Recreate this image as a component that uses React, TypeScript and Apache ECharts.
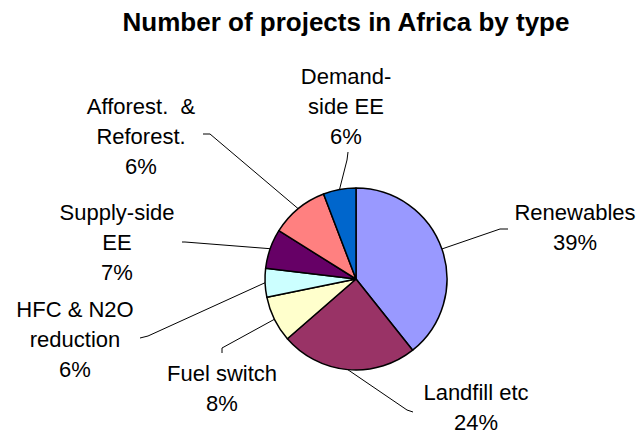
import React, { useEffect, useRef } from "react";
import * as echarts from "echarts";

// Data
const categories = [
  "Renewables",
  "Landfill etc",
  "Fuel switch",
  "HFC & N2O\nreduction",
  "Supply-side\nEE",
  "Afforest.  &\nReforest.",
  "Demand-\nside EE",
];
const sliceShares = [39.3, 24.3, 8.2, 5.1, 7.0, 10.3, 5.8];
// percentages as printed on the chart
const percentLabels = ["39%", "24%", "8%", "6%", "7%", "6%", "6%"];
const sliceColors = ["#9999FF", "#993366", "#FFFFCC", "#CCFFFF", "#660066", "#FF8080", "#0066CC"];

const titleText = "Number of projects in Africa by type";

// label layout (text block centre, leader-line bend and end)
const labelSpots = [
  { x: 575, y: 227, bend: [500, 229], end: [508, 229] },
  { x: 476, y: 407, bend: [407, 410], end: [413, 412] },
  { x: 222, y: 388, bend: [222, 348], end: [222, 353] },
  { x: 75, y: 339, bend: [148, 336], end: [140, 338] },
  { x: 117, y: 242, bend: [185, 242], end: [182, 242] },
  { x: 141, y: 136, bend: [210, 134], end: [203, 134] },
  { x: 346, y: 106, bend: [347, 160], end: [348, 152] },
];

const CENTER = [356, 279];
const RADIUS = 91;
const FONT = '"Liberation Sans", Arial, sans-serif';

export default function App() {
  const ref = useRef<HTMLDivElement>(null);

  useEffect(() => {
    if (!ref.current) return;
    const chart = echarts.init(ref.current, undefined, { renderer: "svg" });
    const total = sliceShares.reduce((a, b) => a + b, 0);
    const cum: number[] = [];
    let acc = 0;
    sliceShares.forEach((v) => {
      cum.push(acc + v / 2);
      acc += v;
    });

    chart.setOption({
      animation: false,
      backgroundColor: "#ffffff",
      title: {
        text: titleText,
        left: 341,
        top: 4,
        textAlign: "center",
        textStyle: { fontFamily: FONT, fontSize: 26, fontWeight: "bold", color: "#000" },
      },
      series: [
        {
          type: "pie",
          center: CENTER,
          radius: RADIUS,
          startAngle: 90,
          clockwise: true,
          avoidLabelOverlap: false,
          data: categories.map((name, i) => ({
            name,
            value: sliceShares[i],
            itemStyle: { color: sliceColors[i] },
          })),
          itemStyle: { borderColor: "#000", borderWidth: 1.5 },
          label: {
            show: true,
            position: "outside",
            formatter: (p: any) => `${p.name}\n${percentLabels[p.dataIndex]}`,
            fontFamily: FONT,
            fontSize: 22,
            lineHeight: 30,
            color: "#000",
            align: "center",
          },
          labelLine: {
            show: true,
            length: 10,
            length2: 10,
            smooth: false,
            lineStyle: { color: "#000", width: 1 },
          },
          emphasis: { disabled: true },
          labelLayout: (params: any) => {
            const i = params.dataIndex;
            const s = labelSpots[i];
            let start = params.labelLinePoints && params.labelLinePoints[0];
            if (!start) {
              const ang = (cum[i] / total) * Math.PI * 2;
              start = [CENTER[0] + RADIUS * Math.sin(ang), CENTER[1] - RADIUS * Math.cos(ang)];
            }
            return {
              x: s.x,
              y: s.y,
              align: "center",
              verticalAlign: "middle",
              labelLinePoints: [start, s.bend, s.end],
            };
          },
        },
      ],
    });
    return () => chart.dispose();
  }, []);

  return (
    <div
      ref={ref}
      style={{ position: "absolute", left: 0, top: 0, width: 640, height: 433, background: "#fff" }}
    />
  );
}
